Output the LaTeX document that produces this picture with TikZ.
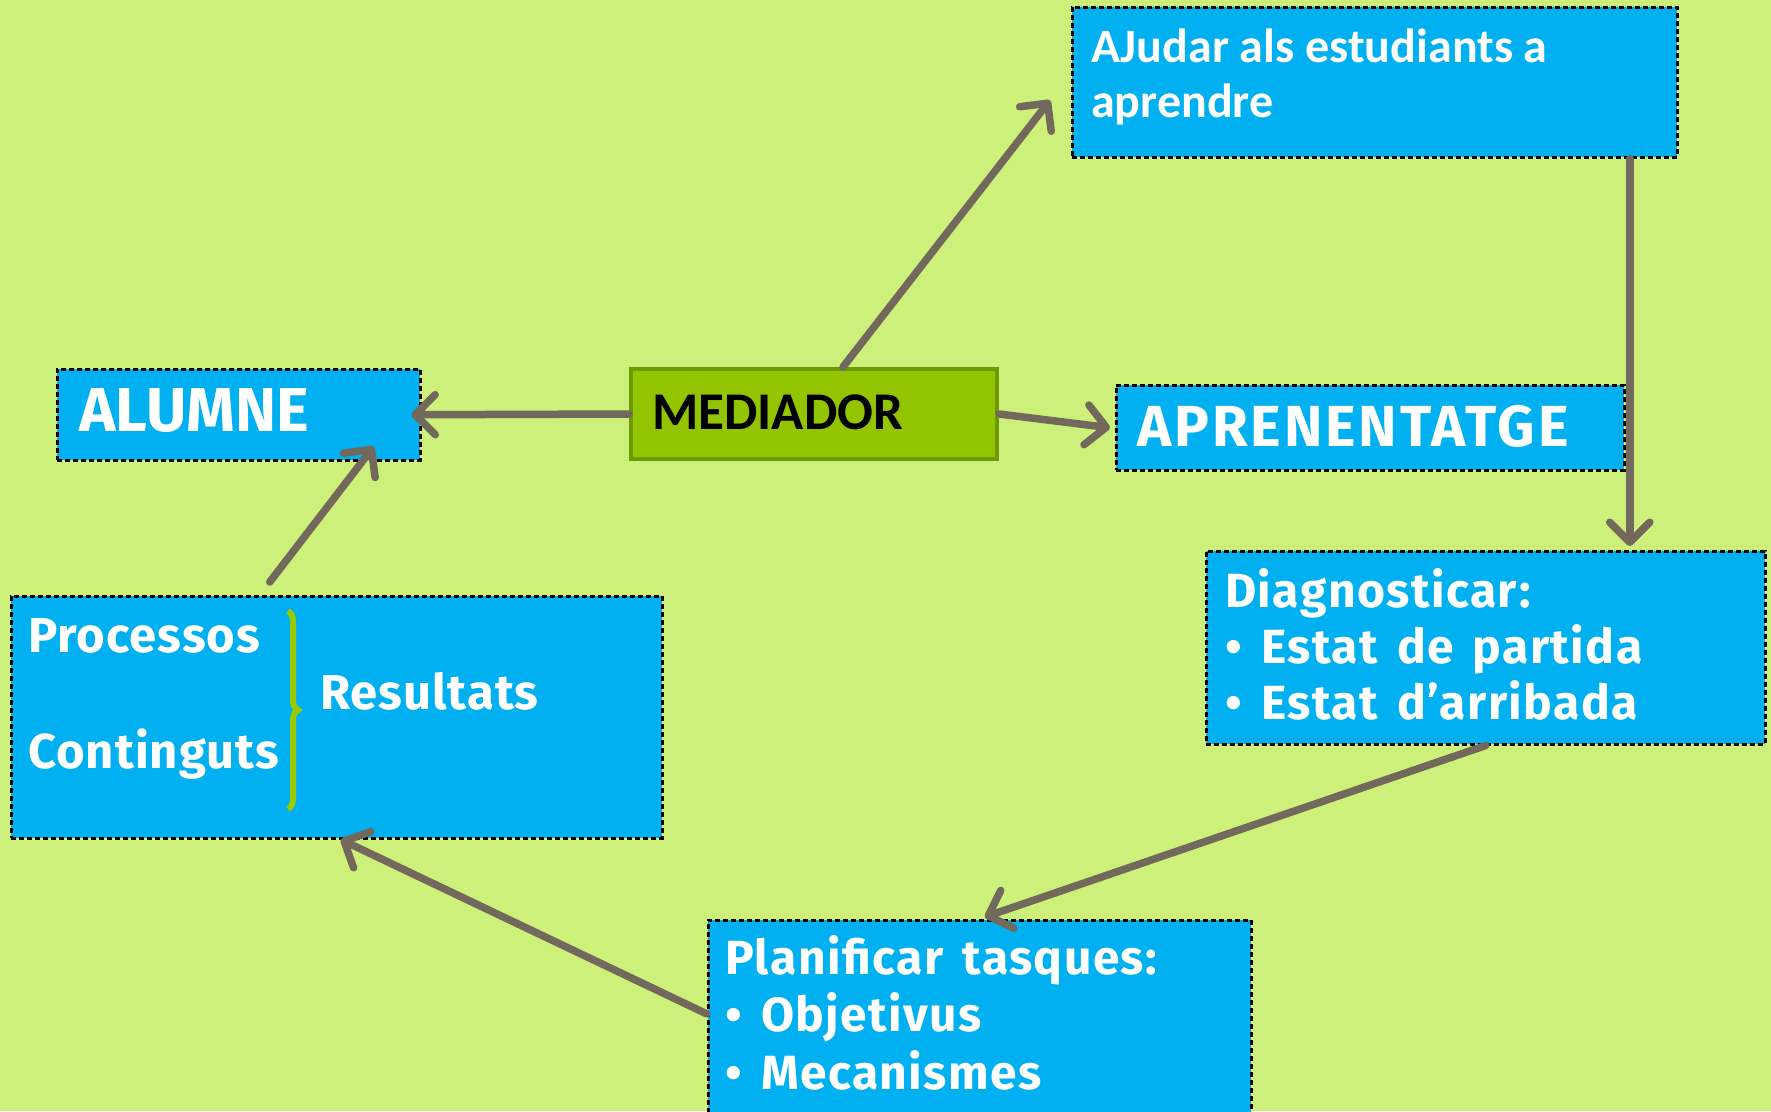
\documentclass[tikz,border=0pt]{standalone}
\usepackage{fontspec}
\setmainfont{Fira Sans}
\newfontfamily\calib{Carlito}
\newfontfamily\comicf[LetterSpace=3,WordSpace=1.5]{Fira Sans}
\usetikzlibrary{arrows.meta,decorations.pathreplacing}
\definecolor{bg}{RGB}{204,240,122}
\definecolor{boxblue}{RGB}{0,176,240}
\definecolor{medgreen}{RGB}{146,196,0}
\definecolor{medborder}{RGB}{107,155,0}
\definecolor{arrowgray}{RGB}{114,104,92}
\definecolor{bracegreen}{RGB}{153,204,0}
\tikzset{
  box/.style={draw=black, dash pattern=on 5pt off 3pt, line width=2.5pt, fill=boxblue, anchor=north west, inner sep=0pt},
  medbox/.style={draw=medborder, line width=4pt, fill=medgreen, anchor=north west, inner sep=0pt},
  lbl/.style={anchor=base west, inner sep=0pt, text=white, font=\bfseries},
  conn/.style={draw=arrowgray, line width=7.5pt, line cap=round, -{Straight Barb[length=20pt,width=40pt,round]}},
}
\begin{document}
\begin{tikzpicture}[x=1pt,y=-1pt]
\fill[bg] (0,0) rectangle (1771,1111);
\useasboundingbox (0,0) rectangle (1771,1111);
% boxes
\node[box, minimum width=363pt, minimum height=91pt] (alumne) at (56,368) {};
\node[medbox, minimum width=366pt, minimum height=90pt] (mediador) at (629,367) {};
\node[box, minimum width=508pt, minimum height=85pt] (apren) at (1115,384) {};
\node[box, minimum width=605pt, minimum height=150pt] (ajudar) at (1071,6) {};
\node[box, minimum width=559pt, minimum height=193pt] (diag) at (1205,550) {};
\node[box, minimum width=543pt, minimum height=230pt] (plan) at (707,919) {};
\node[box, minimum width=651pt, minimum height=242pt] (proc) at (10,595) {};
% texts
\node[lbl, font=\bfseries\fontsize{62}{70}\selectfont] (talumne) at (79,431) {ALUMNE};
\node[lbl, text=black, font=\calib\bfseries\fontsize{53}{60}\selectfont] (tmed) at (652,429) {MEDIADOR};
\node[lbl, font=\bfseries\fontsize{58}{66}\selectfont\addfontfeatures{LetterSpace=5}] (tapren) at (1137,446) {APRENENTATGE};
\node[lbl, font=\calib\bfseries\fontsize{48}{56}\selectfont] (taj1) at (1091,62) {AJudar als estudiants a};
\node[lbl, font=\calib\bfseries\fontsize{48}{56}\selectfont] (taj2) at (1091,117) {aprendre};
\node[lbl, font=\comicf\bfseries\fontsize{48}{56}\selectfont] (tdiag1) at (1225,607) {Diagnosticar:};
\node[lbl, font=\comicf\bfseries\fontsize{48}{56}\selectfont] (tdiag2) at (1225,663) {• Estat de partida};
\node[lbl, font=\comicf\bfseries\fontsize{48}{56}\selectfont] (tdiag3) at (1225,719) {• Estat d’arribada};
\node[lbl, font=\comicf\bfseries\fontsize{48}{56}\selectfont] (tplan1) at (725,974) {Planificar tasques:};
\node[lbl, font=\comicf\bfseries\fontsize{48}{56}\selectfont] (tplan2) at (725,1031) {• Objetivus};
\node[lbl, font=\comicf\bfseries\fontsize{48}{56}\selectfont] (tplan3) at (725,1089) {• Mecanismes};
\node[lbl, font=\bfseries\fontsize{49}{58}\selectfont\addfontfeatures{LetterSpace=2}] (tproc) at (28,652) {Processos};
\node[lbl, font=\bfseries\fontsize{49}{58}\selectfont\addfontfeatures{LetterSpace=2}] (tcont) at (28,768) {Continguts};
\node[lbl, font=\bfseries\fontsize{49}{58}\selectfont\addfontfeatures{LetterSpace=2}] (tres) at (320,709) {Resultats};
% brace
\coordinate (bt) at (288,611);
\coordinate (bb) at (288,809);
\draw[bracegreen, line width=6pt, decorate, decoration={brace, amplitude=10pt}] (bt) -- (bb);
% connectors
\draw[conn] (mediador.west) -- ([xshift=-10pt]alumne.east);
\draw[conn] ([xshift=29pt]mediador.north) -- ([xshift=-21pt,yshift=-18pt]ajudar.west);
\draw[conn] (mediador.east) -- ([xshift=-5pt]apren.west);
\draw[conn] ([xshift=255pt]ajudar.south) -- ([xshift=255pt,yshift=4pt]ajudar.south |- diag.north);
\draw[conn] (diag.south) -- ([xshift=5pt,yshift=2pt]plan.north);
\draw[conn] ([yshift=-95pt]plan.north west) -- ([xshift=4pt]proc.south);
\draw[conn] ([xshift=-67pt,yshift=13pt]proc.north) -- ([xshift=135pt,yshift=15pt]alumne.south);
\end{tikzpicture}
\end{document}
